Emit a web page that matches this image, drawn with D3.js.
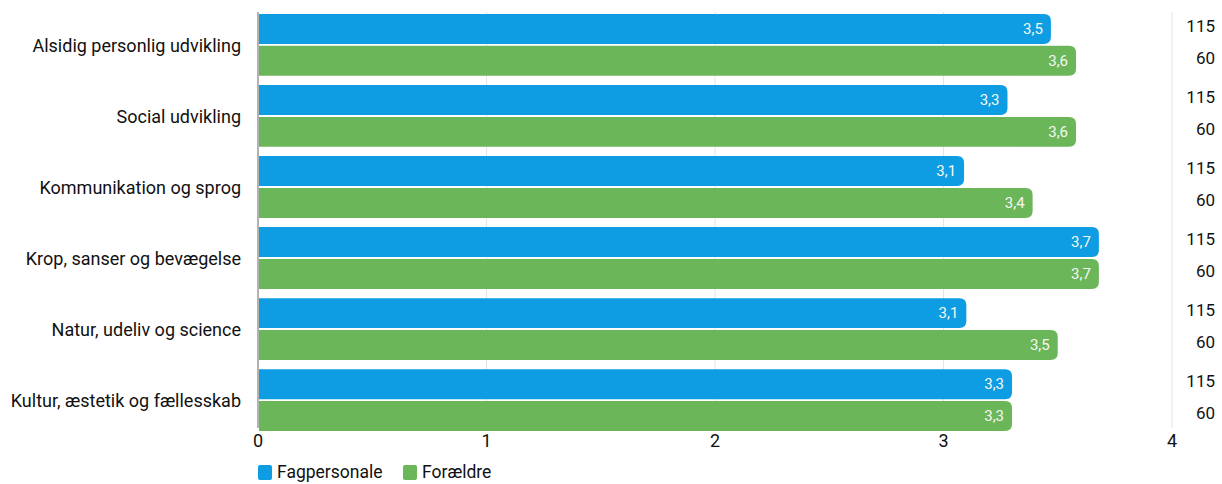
<!DOCTYPE html>
<html>
<head>
  <title>Chart</title>
  <script src="https://d3js.org/d3.v7.min.js"></script>
  <style>
    body { margin: 0; background: #fff; }
    text { font-family: Roboto, "Noto Sans", sans-serif; }
  </style>
</head>
<body>
  <div id="chart"></div>
  <script>
    var categories = [
      "Alsidig personlig udvikling",
      "Social udvikling",
      "Kommunikation og sprog",
      "Krop, sanser og bevægelse",
      "Natur, udeliv og science",
      "Kultur, æstetik og fællesskab"
    ];
    var series = ["Fagpersonale", "Forældre"];
    var fagpersonale = [3.47, 3.28, 3.09, 3.68, 3.10, 3.30];
    var foraeldre = [3.58, 3.58, 3.39, 3.68, 3.50, 3.30];
    var respondents = [115, 60];
    var xTicks = [0, 1, 2, 3, 4];

    var width = 1222, height = 484;
    var colors = d3.scaleOrdinal().domain(series).range(["#0e9de2", "#6cb65a"]);

    var svg = d3.select("#chart").append("svg")
      .attr("width", width).attr("height", height);

    var x = d3.scaleLinear().domain([0, 4]).range([258, 1172]);
    var y = d3.scaleBand().domain(categories).range([14, 431]).paddingInner(0.13).paddingOuter(0);
    var ySub = d3.scaleBand().domain(series).range([0, y.bandwidth()]).paddingInner(0.06);

    // gridlines
    svg.append("g").selectAll("line")
      .data(xTicks.slice(1))
      .enter().append("line")
      .attr("x1", d => x(d)).attr("x2", d => x(d))
      .attr("y1", 12).attr("y2", 428)
      .attr("stroke", "#e4e4e4").attr("stroke-width", 1);

    svg.append("line")
      .attr("x1", x(0)).attr("x2", x(0))
      .attr("y1", 12).attr("y2", 428)
      .attr("stroke", "#999").attr("stroke-width", 1.5);

    var rows = categories.map(function(c, i) {
      return { cat: c, values: [
        { s: series[0], v: fagpersonale[i] },
        { s: series[1], v: foraeldre[i] }
      ] };
    });

    var fmt = function(v) { return d3.format(".1f")(v).replace(".", ","); };

    var groups = svg.selectAll(".grp")
      .data(rows).enter().append("g")
      .attr("class", "grp")
      .attr("transform", d => "translate(0," + y(d.cat) + ")");

    groups.selectAll("path")
      .data(d => d.values).enter().append("path")
      .attr("fill", d => colors(d.s))
      .attr("d", function(d) {
        var x0 = x(0) + 1, x1 = x(d.v), y0 = ySub(d.s), h = ySub.bandwidth(), r = 7;
        return "M" + x0 + "," + y0 + "H" + (x1 - r) +
          "Q" + x1 + "," + y0 + " " + x1 + "," + (y0 + r) +
          "V" + (y0 + h - r) +
          "Q" + x1 + "," + (y0 + h) + " " + (x1 - r) + "," + (y0 + h) +
          "H" + x0 + "Z";
      });

    groups.selectAll(".val")
      .data(d => d.values).enter().append("text")
      .attr("class", "val")
      .attr("x", d => x(d.v) - 8)
      .attr("y", d => ySub(d.s) + ySub.bandwidth() / 2 + 5)
      .attr("text-anchor", "end")
      .style("font-size", "15px")
      .style("fill", "#f4f8f4")
      .text(d => fmt(d.v));

    groups.selectAll(".n")
      .data(d => d.values).enter().append("text")
      .attr("class", "n")
      .attr("x", 1215)
      .attr("y", d => ySub(d.s) + ySub.bandwidth() / 2 + 3)
      .attr("text-anchor", "end")
      .style("font-size", "17px")
      .style("fill", "#111")
      .text((d, i) => respondents[i]);

    groups.append("text")
      .attr("x", 241)
      .attr("y", y.bandwidth() / 2 + 7)
      .attr("text-anchor", "end")
      .style("font-size", "18px")
      .style("fill", "#111")
      .text(d => d.cat);

    // x axis labels
    svg.append("g").selectAll("text")
      .data(xTicks).enter().append("text")
      .attr("x", d => x(d))
      .attr("y", 447)
      .attr("text-anchor", "middle")
      .style("font-size", "18px")
      .style("fill", "#111")
      .text(d => d);

    // legend
    var legend = svg.append("g").selectAll("g")
      .data(series).enter().append("g")
      .attr("transform", (d, i) => "translate(" + (i === 0 ? 258 : 403) + ",465)");
    legend.append("rect")
      .attr("width", 14).attr("height", 15).attr("rx", 2)
      .attr("fill", d => colors(d));
    legend.append("text")
      .attr("x", 19).attr("y", 13)
      .style("font-size", "17.5px")
      .style("fill", "#111")
      .text(d => d);
  </script>
</body>
</html>
